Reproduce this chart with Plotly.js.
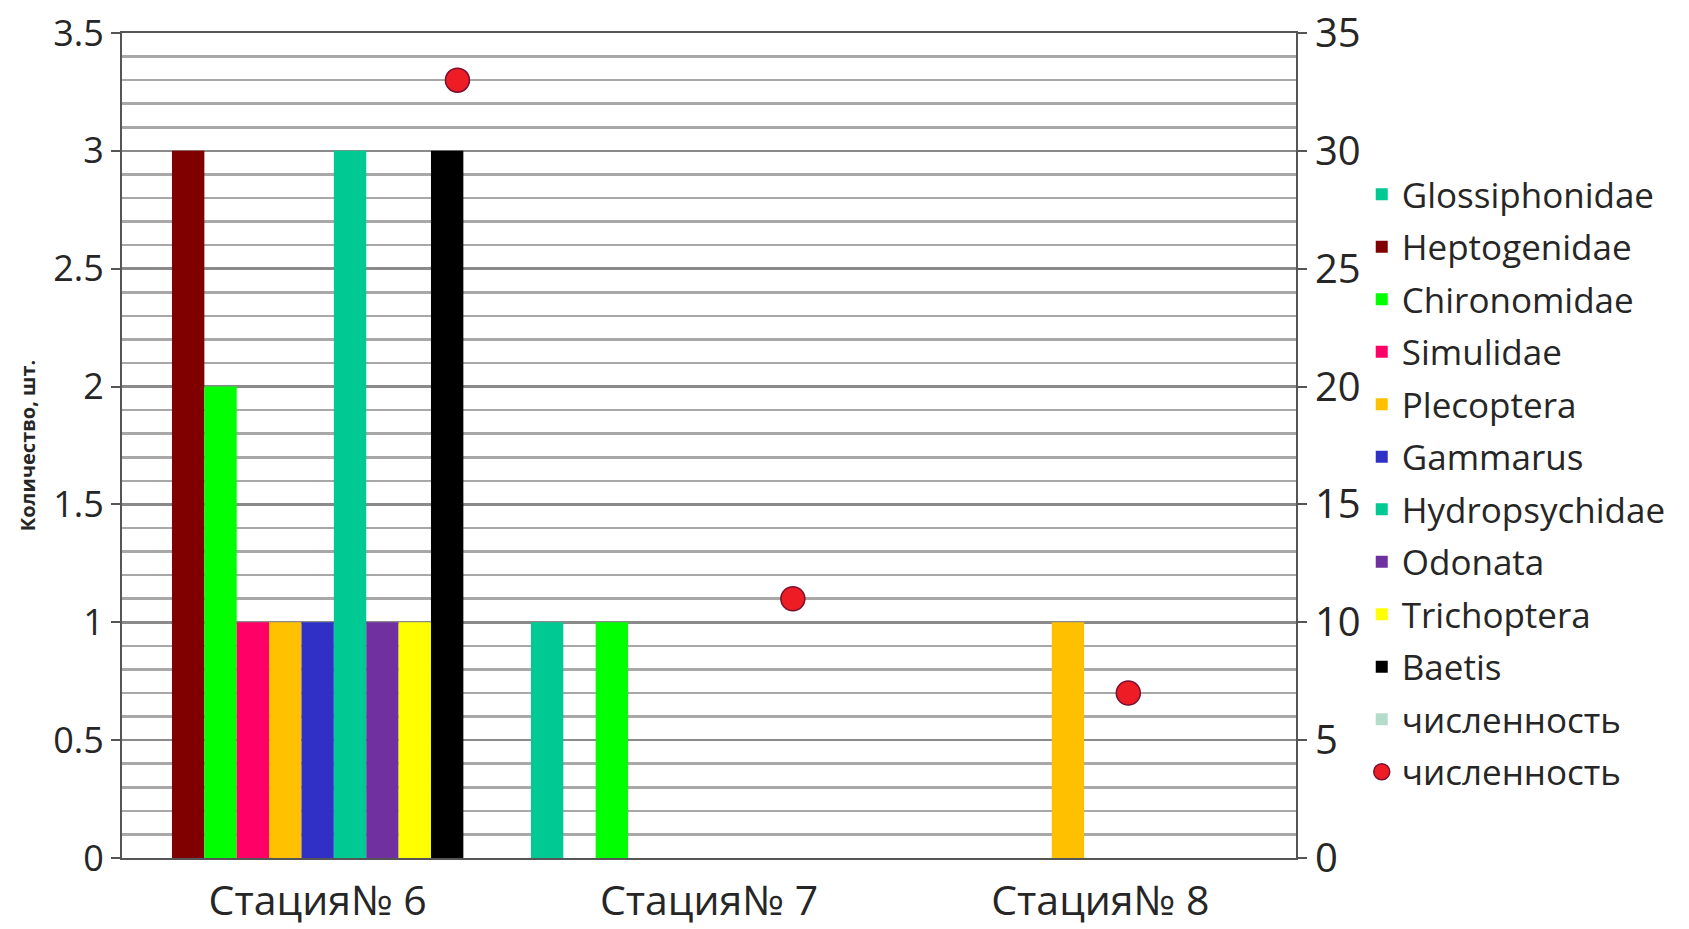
<!DOCTYPE html>
<html>
<head>
<meta charset="utf-8">
<script src="https://cdn.plot.ly/plotly-3.0.1.min.js"></script>
<style>html,body{margin:0;padding:0;background:#fff;}#chart{width:1689px;height:929px;}</style>
</head>
<body>
<div id="chart"></div>
<script>
const stations = ['Стация№ 6', 'Стация№ 7', 'Стация№ 8'];

const glossiphonidae = [0, 1, 0];
const heptogenidae   = [3, 0, 0];
const chironomidae   = [2, 1, 0];
const simulidae      = [1, 0, 0];
const plecoptera     = [1, 0, 1];
const gammarus       = [1, 0, 0];
const hydropsychidae = [3, 0, 0];
const odonata        = [1, 0, 0];
const trichoptera    = [1, 0, 0];
const baetis         = [3, 0, 0];
const abundanceBars  = [0, 0, 0];
const abundance      = [33, 11, 7];

const barSeries = [
  {name: 'Glossiphonidae', values: glossiphonidae, color: '#00c994'},
  {name: 'Heptogenidae',   values: heptogenidae,   color: '#800000'},
  {name: 'Chironomidae',   values: chironomidae,   color: '#00ff00'},
  {name: 'Simulidae',      values: simulidae,      color: '#ff0066'},
  {name: 'Plecoptera',     values: plecoptera,     color: '#ffc000'},
  {name: 'Gammarus',       values: gammarus,       color: '#3030c6'},
  {name: 'Hydropsychidae', values: hydropsychidae, color: '#00c994'},
  {name: 'Odonata',        values: odonata,        color: '#7030a0'},
  {name: 'Trichoptera',    values: trichoptera,    color: '#ffff00'},
  {name: 'Baetis',         values: baetis,         color: '#000000'},
  {name: 'численность',    values: abundanceBars,  color: '#b4dccb'}
];

const font = 'Open Sans, Liberation Sans, sans-serif';
const txt = '#262626';

const traces = barSeries.map((s, i) => ({
  type: 'bar',
  name: s.name,
  x: stations,
  y: s.values,
  legendgroup: 'g' + i,
  marker: {color: s.color, line: {width: 0}},
  xaxis: 'x', yaxis: 'y'
}));

traces.push({
  type: 'scatter',
  mode: 'markers',
  name: 'численность',
  x: stations,
  y: abundance,
  legendgroup: 'g99',
  xaxis: 'x2', yaxis: 'y2',
  marker: {color: '#ee1c24', size: 24, line: {color: '#7a1030', width: 1.5}}
});

const layout = {
  width: 1689, height: 929,
  paper_bgcolor: '#ffffff', plot_bgcolor: '#ffffff',
  margin: {l: 122, r: 393, t: 33, b: 71},
  barmode: 'group', bargap: 0.09, bargroupgap: 0,
  font: {family: font, color: txt, size: 32},
  showlegend: true,
  legend: {
    x: 1.056, xanchor: 'left', y: 0.84, yanchor: 'top',
    traceorder: 'grouped', tracegroupgap: 4,
    font: {family: font, size: 35, color: txt},
    bgcolor: 'rgba(0,0,0,0)'
  },
  xaxis: {
    type: 'category', showline: true, linecolor: '#555555', linewidth: 2, mirror: true,
    ticks: '', showgrid: false, zeroline: false,
    ticklabelstandoff: 6,
    tickfont: {family: font, size: 41, color: txt}
  },
  xaxis2: {
    type: 'category', overlaying: 'x', range: [-1, 2.5], visible: false
  },
  yaxis: {
    range: [0, 3.5], dtick: 0.5, tick0: 0,
    showline: true, linecolor: '#555555', linewidth: 2,
    ticks: 'outside', ticklen: 9, tickwidth: 2, tickcolor: '#555555',
    showgrid: true, gridcolor: '#8a8a8a', gridwidth: 2.5,
    minor: {dtick: 0.1, showgrid: true, gridcolor: '#a8a8a8', gridwidth: 2.5, ticks: ''},
    zeroline: false,
    tickfont: {family: font, size: 36, color: txt},
    title: {text: '<b>Количество, шт.</b>', standoff: 12, font: {family: font, size: 20, color: txt}}
  },
  yaxis2: {
    overlaying: 'y', side: 'right', range: [0, 35], dtick: 5, tick0: 0,
    showline: true, linecolor: '#555555', linewidth: 2,
    ticks: 'outside', ticklen: 9, tickwidth: 2, tickcolor: '#555555',
    showgrid: false, zeroline: false,
    tickfont: {family: font, size: 40, color: txt}
  }
};

Plotly.newPlot('chart', traces, layout, {displayModeBar: false, staticPlot: true});
</script>
</body>
</html>
